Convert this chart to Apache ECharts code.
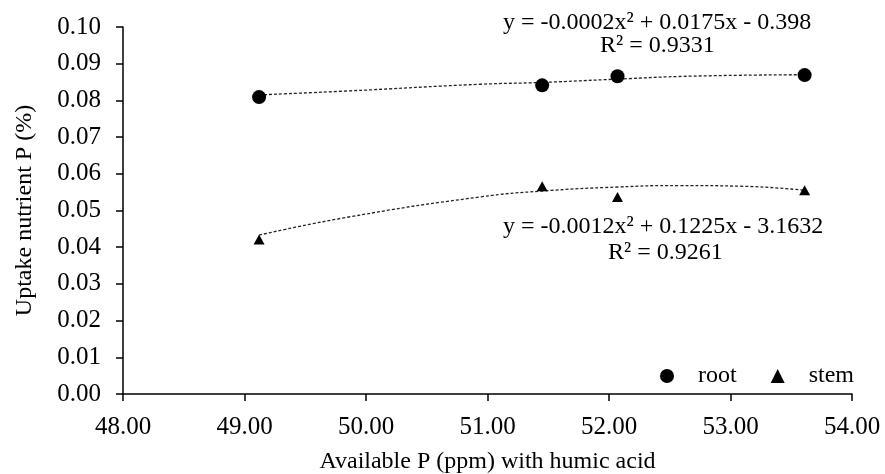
<!DOCTYPE html>
<html>
<head>
<meta charset="utf-8">
<script src="https://cdn.jsdelivr.net/npm/echarts@6/dist/echarts.min.js"></script>
<style>
  html, body { margin: 0; padding: 0; background: #fff; }
  #chart { width: 885px; height: 474px; }
</style>
</head>
<body>
<div id="chart"></div>
<script>
// measured points
var availP = [49.12, 51.45, 52.07, 53.61];
var rootUptake = [0.0809, 0.0841, 0.0866, 0.0869];
var stemUptake = [0.0421, 0.0566, 0.0537, 0.0555];

// trend lines
var rootTrendX = [49.12, 49.87, 50.94, 51.45, 52.07, 52.67, 53.61];
var rootTrendY = [0.0815, 0.0826, 0.0844, 0.0849, 0.0858, 0.0866, 0.0870];
var stemTrendX = [49.12, 49.87, 50.94, 51.45, 52.07, 52.58, 53.10, 53.61];
var stemTrendY = [0.0433, 0.0483, 0.0537, 0.0553, 0.0564, 0.0568, 0.0566, 0.0555];

var rootEq = 'y = -0.0002x² + 0.0175x - 0.398';
var rootR2 = 'R² = 0.9331';
var stemEq = 'y = -0.0012x² + 0.1225x - 3.1632';
var stemR2 = 'R² = 0.9261';

var font = '"Liberation Serif", "Times New Roman", serif';

var pairs = function (xs, ys) {
    var out = [];
    for (var i = 0; i < xs.length; i++) out.push([xs[i], ys[i]]);
    return out;
};

var chart = echarts.init(document.getElementById('chart'));

var option = {
    animation: false,
    textStyle: { fontFamily: font, color: '#000' },
    grid: { left: 123, right: 33, top: 27, bottom: 80, outerBoundsMode: 'none' },
    legend: {
        data: ['root', 'stem'],
        right: 26,
        bottom: 81,
        itemWidth: 14,
        itemHeight: 14,
        itemGap: 34,
        textStyle: { fontFamily: font, fontSize: 24, color: '#000', padding: [0, 0, 0, 19] }
    },
    xAxis: {
        type: 'value',
        min: 48,
        max: 54,
        interval: 1,
        name: 'Available P (ppm) with humic acid',
        nameLocation: 'middle',
        nameGap: 56,
        nameTextStyle: { fontFamily: font, fontSize: 24, color: '#000' },
        axisLine: { lineStyle: { color: '#000', width: 1.5 } },
        axisTick: { length: 7, lineStyle: { color: '#000', width: 1.5 } },
        axisLabel: {
            margin: 21,
            fontFamily: font,
            fontSize: 25,
            color: '#000',
            formatter: function (v) { return v.toFixed(2); }
        },
        splitLine: { show: false }
    },
    yAxis: {
        type: 'value',
        min: 0,
        max: 0.1,
        interval: 0.01,
        name: 'Uptake nutrient P (%)',
        nameLocation: 'middle',
        nameGap: 86,
        nameTextStyle: { fontFamily: font, fontSize: 24, color: '#000' },
        axisLine: { show: true, lineStyle: { color: '#000', width: 1.5 } },
        axisTick: { show: true, length: 7, lineStyle: { color: '#000', width: 1.5 } },
        axisLabel: {
            margin: 22,
            fontFamily: font,
            fontSize: 25,
            color: '#000',
            formatter: function (v) { return v.toFixed(2); }
        },
        splitLine: { show: false }
    },
    graphic: [
        { type: 'text', left: 503, top: 11, style: { text: rootEq, font: '24px ' + font, fill: '#000' } },
        { type: 'text', left: 600, top: 34, style: { text: rootR2, font: '24px ' + font, fill: '#000' } },
        { type: 'text', left: 503, top: 215, style: { text: stemEq, font: '24px ' + font, fill: '#000' } },
        { type: 'text', left: 608, top: 241, style: { text: stemR2, font: '24px ' + font, fill: '#000' } }
    ],
    series: [
        {
            type: 'line',
            name: 'root trend',
            data: pairs(rootTrendX, rootTrendY),
            smooth: true,
            showSymbol: false,
            silent: true,
            lineStyle: { color: '#222', width: 1.3, type: [3, 2] },
            z: 1
        },
        {
            type: 'line',
            name: 'stem trend',
            data: pairs(stemTrendX, stemTrendY),
            smooth: true,
            showSymbol: false,
            silent: true,
            lineStyle: { color: '#222', width: 1.3, type: [3, 2] },
            z: 1
        },
        {
            type: 'scatter',
            name: 'root',
            data: pairs(availP, rootUptake),
            symbol: 'circle',
            symbolSize: 14,
            itemStyle: { color: '#000', opacity: 1 },
            z: 3
        },
        {
            type: 'scatter',
            name: 'stem',
            data: pairs(availP, stemUptake),
            symbol: 'triangle',
            symbolSize: [11, 10],
            itemStyle: { color: '#000', opacity: 1 },
            z: 3
        }
    ]
};

chart.setOption(option);
</script>
</body>
</html>
